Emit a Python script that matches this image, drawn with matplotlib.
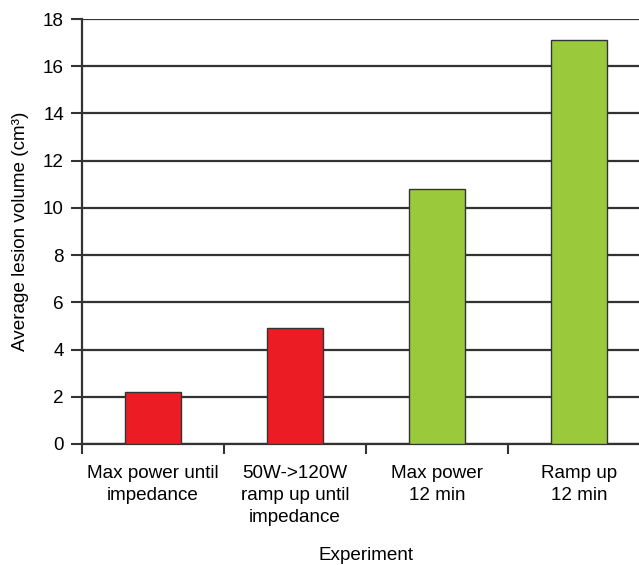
import numpy as np
import matplotlib
matplotlib.use("Agg")
import matplotlib.pyplot as plt

# data
categories = ["Max power until\nimpedance", "50W->120W\nramp up until\nimpedance",
              "Max power\n12 min", "Ramp up\n12 min"]
volumes = [2.2, 4.9, 10.8, 17.1]
bar_colors = ["#ec1c24", "#ec1c24", "#9aca3c", "#9aca3c"]
yticks = [0, 2, 4, 6, 8, 10, 12, 14, 16, 18]

plt.rcParams["font.family"] = ["Liberation Sans", "DejaVu Sans"]
fs = 13.6

W, H = 639, 565
fig = plt.figure(figsize=(W / 100, H / 100), dpi=100)
# axes runs past the right edge of the figure, as in the reference
left, right, top, bottom = 82, 650, 19, 444
ax = fig.add_axes([left / W, 1 - bottom / H, (right - left) / W, (bottom - top) / H])

x = np.arange(len(categories))
ax.bar(x, volumes, width=0.4, color=bar_colors, edgecolor="#333333", linewidth=1.0, zorder=3)

ax.set_xlim(-0.5, len(categories) - 0.5)
ax.set_ylim(0, 18)
ax.set_yticks(yticks)
ax.yaxis.grid(True, color="#333333", linewidth=1.6, zorder=0)
ax.set_axisbelow(True)

# category labels centred under bars, tick marks at the boundaries
ax.set_xticks(x)
ax.set_xticklabels(categories, fontsize=fs, linespacing=1.38)
ax.tick_params(axis="x", length=0, pad=15)
ax.set_xticks(np.arange(len(categories) + 1) - 0.5, minor=True)
ax.tick_params(axis="x", which="minor", length=7, width=1.5, color="#333333", direction="out")
ax.tick_params(axis="y", length=8, width=1.5, color="#333333", labelsize=fs, pad=5)

for side in ["top", "right"]:
    ax.spines[side].set_visible(False)
for side in ["left", "bottom"]:
    ax.spines[side].set_linewidth(1.6)
    ax.spines[side].set_color("#333333")

ax.set_ylabel("Average lesion volume (cm³)", fontsize=fs, labelpad=10)
fig.text(366 / W, 1 - 555 / H, "Experiment", fontsize=fs, ha="center", va="center")

fig.savefig("out.png", dpi=100)
